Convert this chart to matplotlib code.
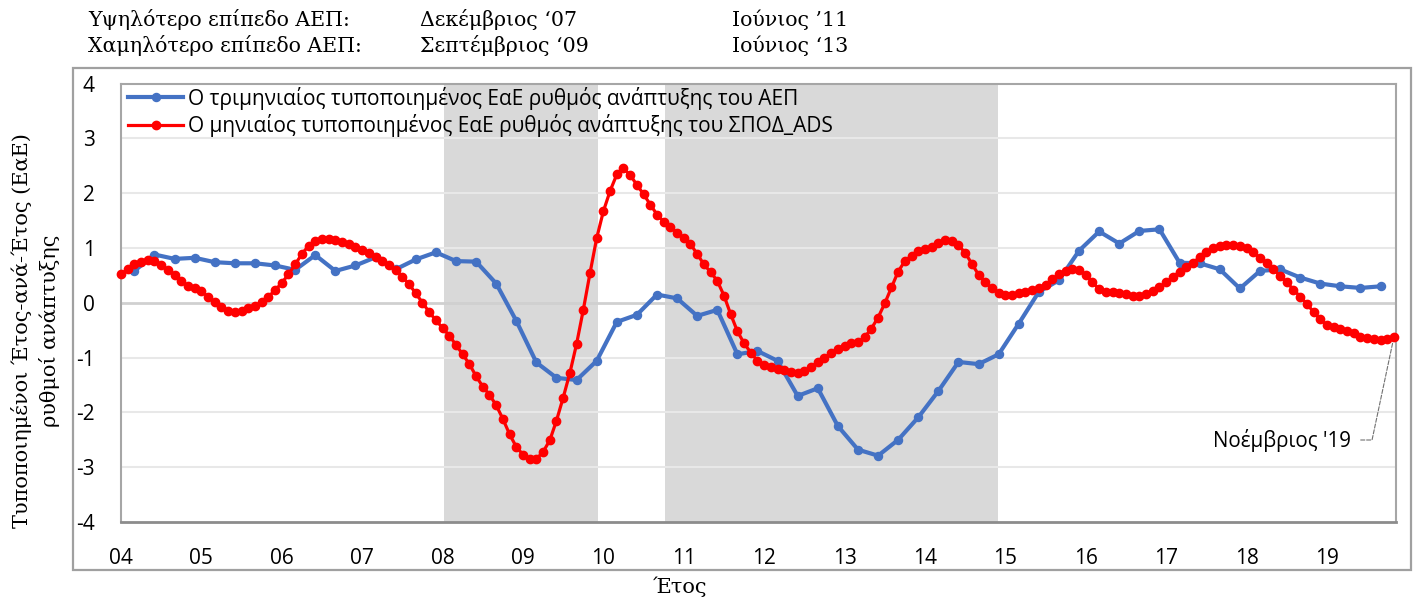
import matplotlib
matplotlib.use("Agg")
import matplotlib.pyplot as plt
from matplotlib.patches import Rectangle

# ---------------- data ----------------
year_labels = ['04', '05', '06', '07', '08', '09', '10', '11', '12',
               '13', '14', '15', '16', '17', '18', '19']

# quarterly standardised YoY GDP growth (Mar 2004 .. Sep 2019)
gdp_q = [0.58, 0.88, 0.80, 0.82, 0.74, 0.72, 0.72, 0.68, 0.60, 0.87,
         0.58, 0.68, 0.83, 0.61, 0.79, 0.92, 0.76, 0.75, 0.35, -0.33, -1.09,
         -1.37, -1.41, -1.06, -0.35, -0.22, 0.15, 0.08, -0.24, -0.13, -0.94, -0.88,
         -1.06, -1.70, -1.56, -2.25, -2.68, -2.79, -2.50, -2.09, -1.61, -1.08,
         -1.12, -0.94, -0.38, 0.20, 0.41, 0.95, 1.30, 1.08, 1.31, 1.34, 0.73,
         0.72, 0.61, 0.26, 0.58, 0.61, 0.46, 0.35, 0.30, 0.27, 0.30]

# monthly standardised YoY ADS index growth (Jan 2004 .. Nov 2019)
ads_m = [0.52, 0.61, 0.70, 0.75, 0.78, 0.76, 0.69, 0.60, 0.51, 0.40, 0.30, 0.26,
         0.21, 0.11, 0.01, -0.07, -0.15, -0.17, -0.15, -0.09, -0.06, 0.01, 0.11, 0.23,
         0.36, 0.52, 0.70, 0.89, 1.04, 1.13, 1.16, 1.16,
         1.14, 1.11, 1.08, 1.02, 0.96, 0.90, 0.84, 0.76, 0.68, 0.60, 0.47, 0.34,
         0.17, 0.00, -0.17, -0.32, -0.46, -0.60, -0.77, -0.94, -1.12, -1.34, -1.53, -1.68,
         -1.87, -2.12, -2.40, -2.63, -2.77, -2.85, -2.85, -2.72,
         -2.51, -2.15, -1.73, -1.28, -0.75, -0.13, 0.54, 1.18, 1.67, 2.04, 2.34, 2.45,
         2.33, 2.15, 1.98, 1.79, 1.61, 1.48, 1.38, 1.28, 1.18, 1.07, 0.89, 0.70,
         0.56, 0.40, 0.13, -0.21, -0.52, -0.74, -0.91, -1.06,
         -1.14, -1.18, -1.20, -1.23, -1.26, -1.28, -1.25, -1.17, -1.08, -1.00, -0.92, -0.84,
         -0.78, -0.74, -0.72, -0.63, -0.47, -0.27, -0.01, 0.28, 0.57, 0.76, 0.86, 0.95,
         0.98, 1.02, 1.09, 1.14, 1.13, 1.05, 0.91, 0.71,
         0.51, 0.37, 0.26, 0.18, 0.15, 0.15, 0.17, 0.20, 0.23, 0.27, 0.32, 0.43,
         0.52, 0.58, 0.62, 0.60, 0.51, 0.37, 0.25, 0.20, 0.19, 0.18, 0.16, 0.13,
         0.12, 0.16, 0.21, 0.28, 0.37, 0.47, 0.57, 0.66,
         0.73, 0.83, 0.92, 0.99, 1.04, 1.05, 1.06, 1.04, 0.99, 0.92, 0.82, 0.72,
         0.61, 0.49, 0.37, 0.24, 0.11, -0.02, -0.17, -0.30, -0.41, -0.45, -0.48, -0.52,
         -0.56, -0.62, -0.65, -0.66, -0.68, -0.67, -0.62]

# shaded periods (in months since Jan 2004)
shade_start = [48.2, 81.2]
shade_end = [71.2, 130.9]

gdp_label = 'Ο τριμηνιαίος τυποποιημένος ΕαΕ ρυθμός ανάπτυξης του ΑΕΠ'
ads_label = 'Ο μηνιαίος τυποποιημένος ΕαΕ ρυθμός ανάπτυξης του ΣΠΟΔ_ADS'
header_rows = [('Υψηλότερο επίπεδο ΑΕΠ:', 'Δεκέμβριος \u201807', 'Ιούνιος \u201911'),
               ('Χαμηλότερο επίπεδο ΑΕΠ:', 'Σεπτέμβριος \u201809', 'Ιούνιος \u201813')]
ylabel_lines = ['Τυποποιημένοι Έτος-ανά-Έτος (ΕαΕ)', 'ρυθμοί ανάπτυξης']
xlabel = 'Έτος'
last_label = "Νοέμβριος '19"

# ---------------- layout ----------------
W, H, DPI = 1413, 597, 100
SANS = ['Open Sans', 'DejaVu Sans']
SERIF = ['DejaVu Serif', 'Liberation Serif']
plt.rcParams['font.family'] = SANS

fig = plt.figure(figsize=(W / DPI, H / DPI), dpi=DPI)
fig.patch.set_facecolor('white')

def fx(px):
    return px / W

def fy(py):
    return 1 - py / H

# outer chart border
fig.patches.append(Rectangle((fx(73), fy(570)), fx(1411) - fx(73), fy(68) - fy(570),
                             transform=fig.transFigure, fill=False,
                             edgecolor='#A0A0A0', lw=1.6, zorder=0))

left, right, top, bottom = 121, 1396, 83.5, 522
ax = fig.add_axes([fx(left), fy(bottom), fx(right) - fx(left), fy(top) - fy(bottom)])

ax.set_xlim(0, 190.3)
ax.set_ylim(-4, 4)

for s, e in zip(shade_start, shade_end):
    ax.axvspan(s, e, color='#D9D9D9', lw=0, zorder=0)

for v in range(-3, 4):
    ax.axhline(v, color='#D0D0D0' if v == 0 else '#E8E8E8',
               lw=2.0 if v == 0 else 1.5, zorder=0.5)

x_q = [2 + 3 * j for j in range(len(gdp_q))]
x_m = list(range(len(ads_m)))

ax.plot(x_q, gdp_q, color='#4472C4', lw=3.0, marker='o', ms=5.8,
        label=gdp_label, zorder=3, clip_on=False)
ax.plot(x_m, ads_m, color='#FF0000', lw=2.3, marker='o', ms=6.0,
        label=ads_label, zorder=4, clip_on=False)

ax.set_xticks([12 * k for k in range(len(year_labels))])
ax.set_xticklabels(year_labels)
ax.set_yticks(range(-4, 5))
ax.set_yticklabels([str(v) for v in range(-4, 5)])
ax.tick_params(axis='both', length=0, labelsize=15, colors='black')
ax.tick_params(axis='x', pad=19)
ax.tick_params(axis='y', pad=19)

for side in ['left', 'right', 'top']:
    ax.spines[side].set_color('#A6A6A6')
    ax.spines[side].set_linewidth(1.5)
ax.spines['bottom'].set_color('#8C8C8C')
ax.spines['bottom'].set_linewidth(2.0)

leg = ax.legend(loc='upper left',
                bbox_to_anchor=(7 / (right - left), 1 - 3 / (bottom - top)),
                frameon=False, fontsize=15, handlelength=2.65, handletextpad=0.25,
                borderpad=0, borderaxespad=0, labelspacing=0.22)

# annotation for last point
ax.annotate(last_label, xy=(x_m[-1], ads_m[-1]), xycoords='data',
            xytext=(1351, H - 440), textcoords='figure pixels',
            ha='right', va='center', fontsize=14.8,
            arrowprops=dict(arrowstyle='-', linestyle='--', color='#707070', lw=0.8,
                            connectionstyle='angle,angleA=0,angleB=78,rad=0',
                            shrinkA=5, shrinkB=0))

# header
cols = [88, 420, 732]
rows_y = [20, 46]
for (a, b, c), yy in zip(header_rows, rows_y):
    for txt, xx in zip((a, b, c), cols):
        fig.text(fx(xx), fy(yy), txt, ha='left', va='center', fontsize=14.8, family=SERIF)

# axis labels
fig.text(fx(22), fy(331), ylabel_lines[0], rotation=90, ha='center', va='center',
         fontsize=15, family=SERIF)
fig.text(fx(50), fy(331), ylabel_lines[1], rotation=90, ha='center', va='center',
         fontsize=15, family=SERIF)
fig.text(fx(680), fy(587), xlabel, ha='center', va='center', fontsize=15, family=SERIF)

fig.savefig('out.png', dpi=DPI, facecolor='white')
